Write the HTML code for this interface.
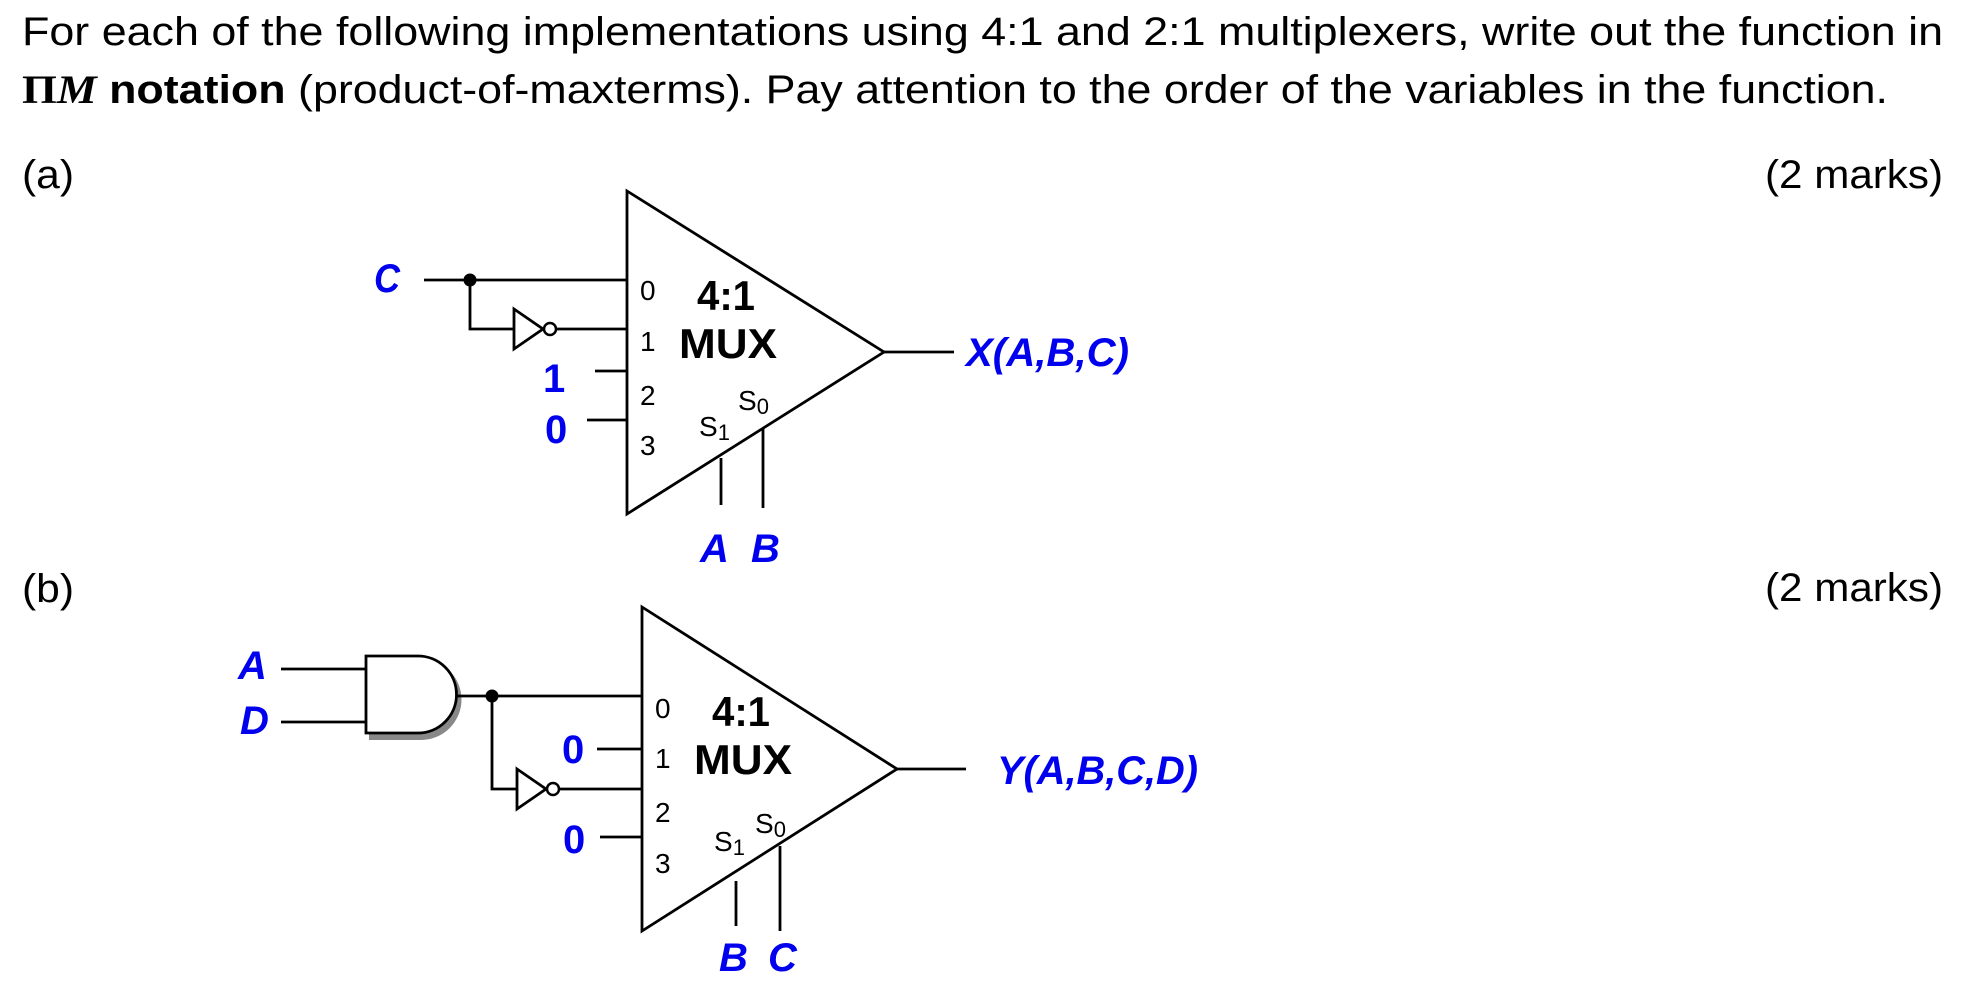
<!DOCTYPE html>
<html><head><meta charset="utf-8"><style>
html,body{margin:0;padding:0;background:#fff;width:1967px;height:992px;overflow:hidden}
svg{display:block}
.t{font-family:"Liberation Sans",sans-serif;font-size:40px;fill:#000}
.b{fill:#0000ee;font-family:"Liberation Sans",sans-serif;font-weight:bold;font-style:italic;font-size:40px}
.n{fill:#0000ee;font-family:"Liberation Sans",sans-serif;font-weight:bold;font-size:40px}
.p{font-family:"Liberation Sans",sans-serif;font-size:28px;fill:#000}
.m{font-family:"Liberation Sans",sans-serif;font-weight:bold;font-size:42px;fill:#000}
line,polyline,polygon,path{stroke:#000;stroke-width:2.8;fill:none}
</style></head><body>
<svg width="1967" height="992" viewBox="0 0 1967 992" xmlns="http://www.w3.org/2000/svg">
<text class="t" x="22" y="45" textLength="1921" lengthAdjust="spacingAndGlyphs">For each of the following implementations using 4:1 and 2:1 multiplexers, write out the function in</text>
<text class="t" x="22" y="103" textLength="1866" lengthAdjust="spacingAndGlyphs"><tspan font-family="Liberation Serif" font-weight="bold">Π</tspan><tspan font-family="Liberation Serif" font-weight="bold" font-style="italic">M</tspan><tspan font-weight="bold"> notation</tspan> (product-of-maxterms). Pay attention to the order of the variables in the function.</text>
<text class="t" x="22" y="188" textLength="52" lengthAdjust="spacingAndGlyphs">(a)</text>
<text class="t" x="1765" y="188" textLength="178" lengthAdjust="spacingAndGlyphs">(2 marks)</text>
<text class="t" x="22" y="602" textLength="52" lengthAdjust="spacingAndGlyphs">(b)</text>
<text class="t" x="1765" y="601" textLength="178" lengthAdjust="spacingAndGlyphs">(2 marks)</text>

<!-- Part (a) -->
<polygon points="627,191 884,352 627,514"/>
<text class="b" x="374" y="292" textLength="26" lengthAdjust="spacingAndGlyphs">C</text>
<line x1="424" y1="280" x2="627" y2="280"/>
<circle cx="470" cy="280" r="6.5" fill="#000"/>
<polyline points="470,280 470,329 514,329"/>
<polygon points="514,309 543,329 514,349"/>
<circle cx="550" cy="329" r="6" fill="#fff" stroke="#000" stroke-width="2.5"/>
<line x1="556" y1="329" x2="627" y2="329"/>
<line x1="595" y1="371" x2="627" y2="371"/>
<text class="n" x="543" y="392">1</text>
<line x1="587" y1="420" x2="627" y2="420"/>
<text class="n" x="545" y="443">0</text>
<text class="p" x="640" y="300">0</text>
<text class="p" x="640" y="351">1</text>
<text class="p" x="640" y="405">2</text>
<text class="p" x="640" y="455">3</text>
<text class="m" x="697" y="310" textLength="58" lengthAdjust="spacingAndGlyphs">4:1</text>
<text class="m" x="679" y="358" textLength="98" lengthAdjust="spacingAndGlyphs">MUX</text>
<text class="p" x="738" y="410" font-size="32">S<tspan font-size="22" dy="4">0</tspan></text>
<text class="p" x="699" y="436" font-size="32">S<tspan font-size="22" dy="4">1</tspan></text>
<line x1="721" y1="458" x2="721" y2="505"/>
<line x1="763" y1="428" x2="763" y2="508"/>
<text class="b" x="700" y="562">A</text>
<text class="b" x="751" y="562">B</text>
<line x1="884" y1="352" x2="954" y2="352"/>
<text class="b" x="966" y="366" textLength="163" lengthAdjust="spacingAndGlyphs">X(A,B,C)</text>

<!-- Part (b) -->
<polygon points="642,607 897,769 642,931"/>
<text class="b" x="238" y="679">A</text>
<text class="b" x="240" y="734">D</text>
<line x1="281" y1="669" x2="366" y2="669"/>
<line x1="281" y1="722" x2="366" y2="722"/>
<path d="M371,661 H421 A38,38 0 0 1 421,738 H371 Z" style="fill:#888;stroke:#888;stroke-width:4"/>
<path d="M366,656 H418 A38,38 0 0 1 418,733 H366 Z" style="fill:#fff"/>
<line x1="456" y1="696" x2="642" y2="696"/>
<circle cx="492" cy="696" r="6.5" fill="#000"/>
<polyline points="492,696 492,789 517,789"/>
<polygon points="517,769 546,789 517,809"/>
<circle cx="553" cy="789" r="6" fill="#fff" stroke="#000" stroke-width="2.5"/>
<line x1="559" y1="789" x2="642" y2="789"/>
<line x1="597" y1="749" x2="642" y2="749"/>
<text class="n" x="562" y="763">0</text>
<line x1="600" y1="837" x2="642" y2="837"/>
<text class="n" x="563" y="853">0</text>
<text class="p" x="655" y="718">0</text>
<text class="p" x="655" y="768">1</text>
<text class="p" x="655" y="822">2</text>
<text class="p" x="655" y="873">3</text>
<text class="m" x="712" y="726" textLength="58" lengthAdjust="spacingAndGlyphs">4:1</text>
<text class="m" x="694" y="774" textLength="98" lengthAdjust="spacingAndGlyphs">MUX</text>
<text class="p" x="755" y="833" font-size="32">S<tspan font-size="22" dy="4">0</tspan></text>
<text class="p" x="714" y="851" font-size="32">S<tspan font-size="22" dy="4">1</tspan></text>
<line x1="736" y1="881" x2="736" y2="926"/>
<line x1="780" y1="846" x2="780" y2="931"/>
<text class="b" x="719" y="971">B</text>
<text class="b" x="768" y="971">C</text>
<line x1="897" y1="769" x2="966" y2="769"/>
<text class="b" x="997" y="784" textLength="201" lengthAdjust="spacingAndGlyphs">Y(A,B,C,D)</text>
</svg>
</body></html>
